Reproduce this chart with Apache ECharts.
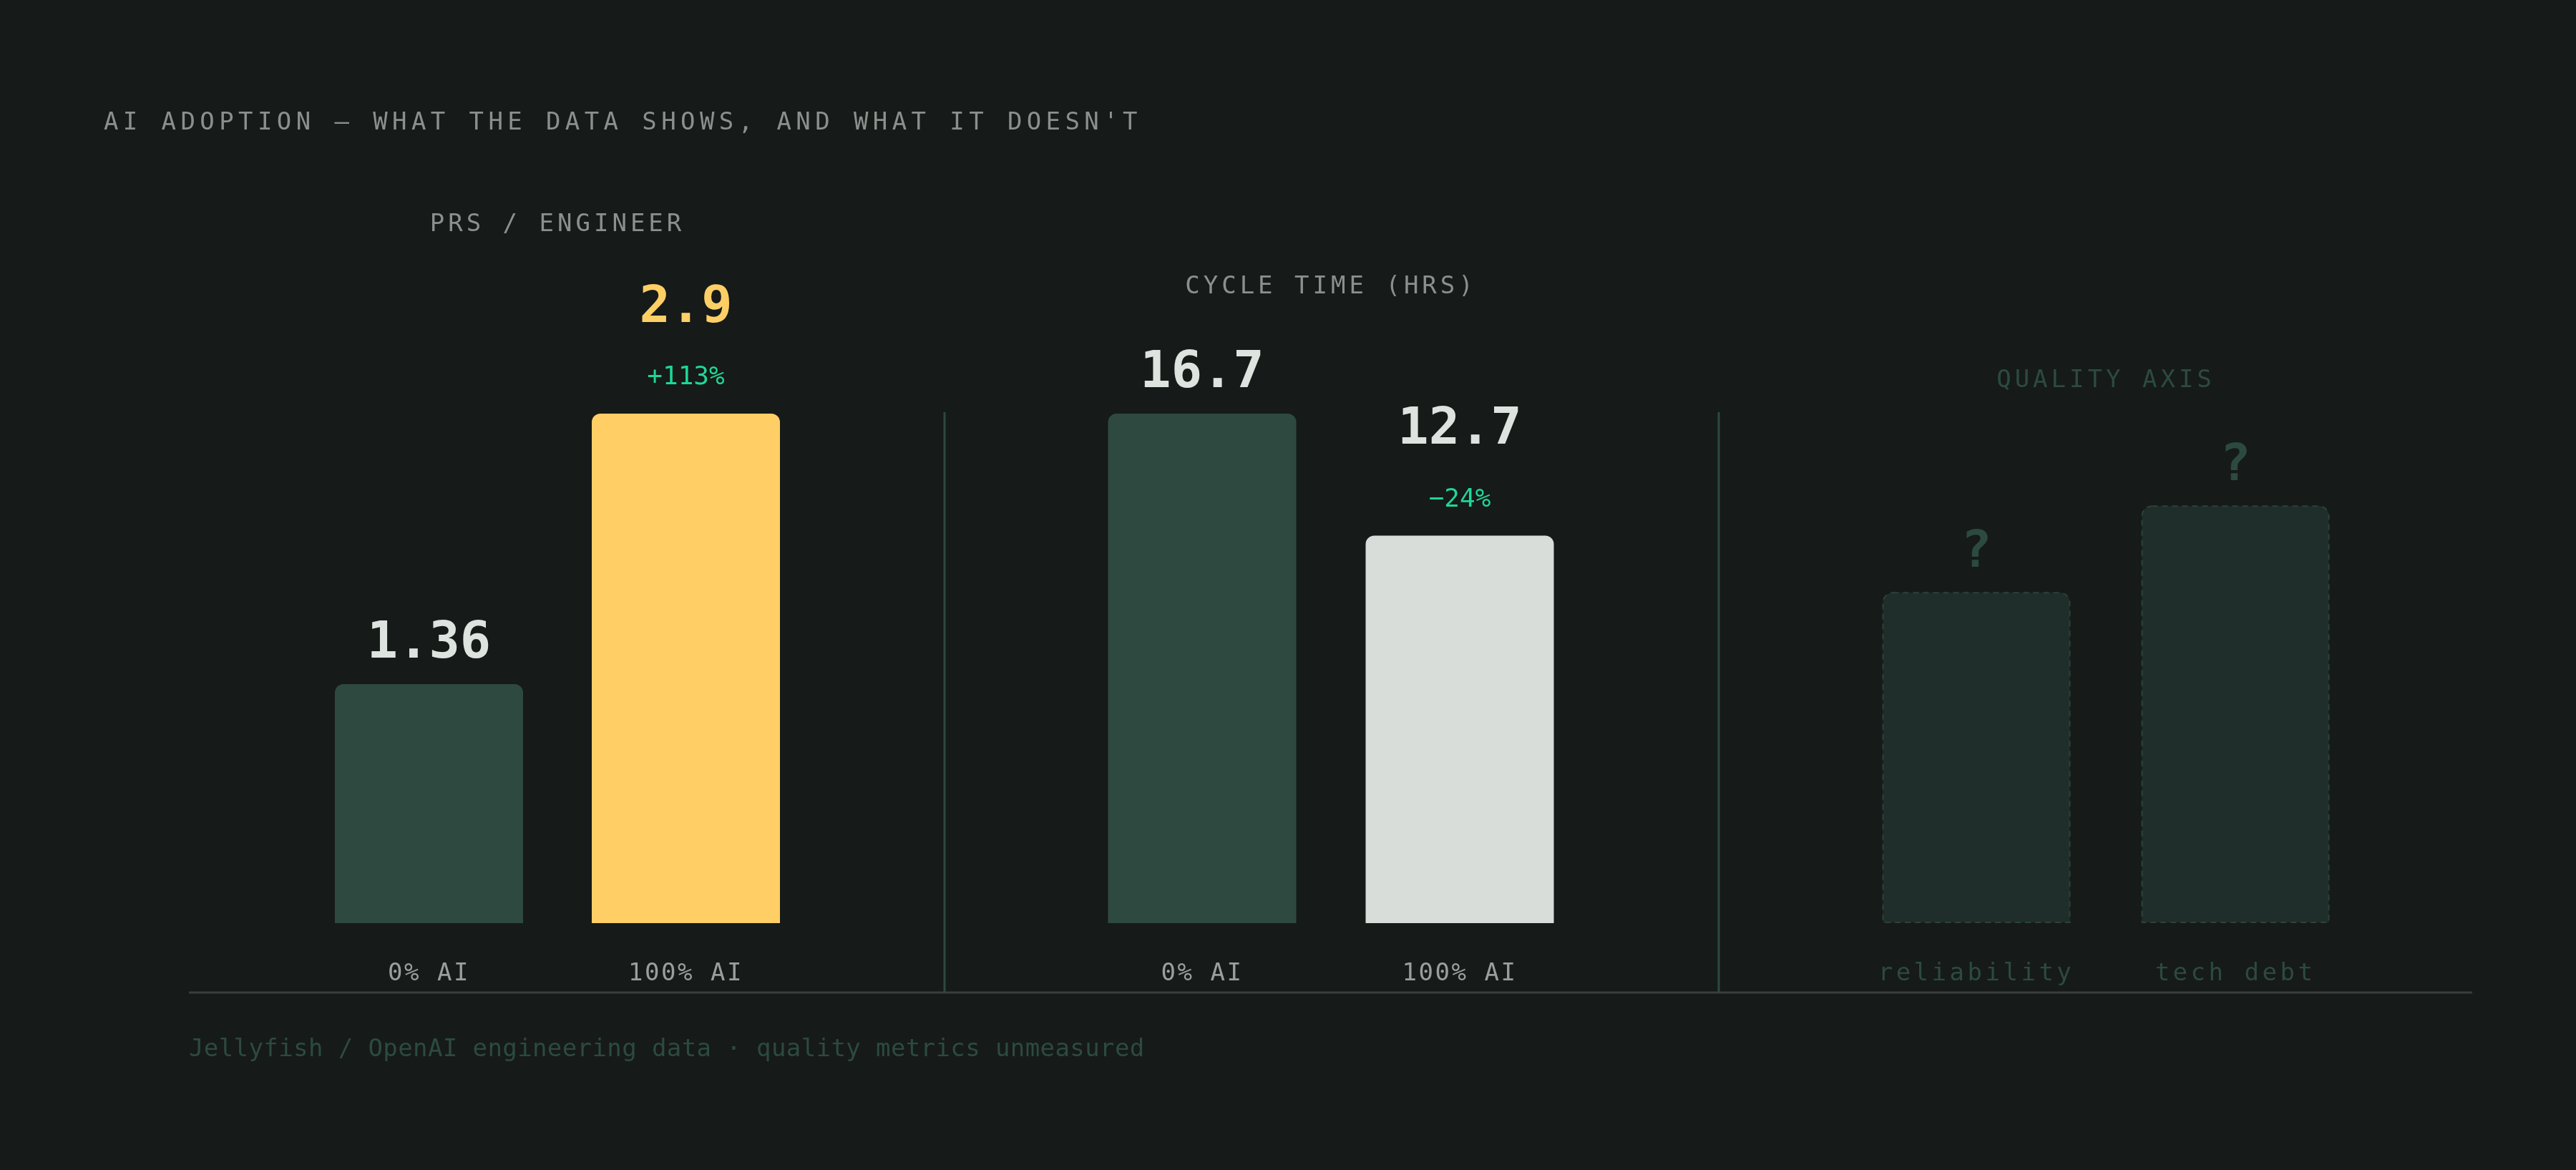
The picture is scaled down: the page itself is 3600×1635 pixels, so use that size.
<!DOCTYPE html>
<html>
<head>
<meta charset="utf-8">
<title>AI adoption</title>
<script src="https://cdn.jsdelivr.net/npm/echarts@6/dist/echarts.min.js"></script>
<style>
    html, body { margin: 0; padding: 0; background: #161a19; }
    #chart { width: 3600px; height: 1635px; }
</style>
</head>
<body>
<div id="chart"></div>
<script>
// data
const prsCats = ["0% AI", "100% AI"];
const prsVals = [1.36, 2.9];
const prsChange = [null, "+113%"];

const cycleCats = ["0% AI", "100% AI"];
const cycleVals = [16.7, 12.7];
const cycleChange = [null, "\u221224%"];

// quality is not measured, bars are only placeholders (out of 100)
const qualityCats = ["reliability", "tech debt"];
const qualityVals = [65, 82];

const titleText = "AI ADOPTION \u2014 WHAT THE DATA SHOWS, AND WHAT IT DOESN'T";
const panelTitles = ["PRS / ENGINEER", "CYCLE TIME (HRS)", "QUALITY AXIS"];
const footText = "Jellyfish / OpenAI engineering data \u00b7 quality metrics unmeasured";

const mono = "'DejaVu Sans Mono', 'Liberation Mono', monospace";
const bg = "#161a19";
const dim = "#2c4a40";
const grey = "#8b908d";
const green = "#1fd796";

// zrender has no letter-spacing, so put it on the canvas for these captions
let tracking = {};
tracking[titleText] = 6.4;
tracking[panelTitles[0]] = 5;
tracking[panelTitles[1]] = 5;
tracking[panelTitles[2]] = 5;
tracking["0% AI"] = 2.5;
tracking["100% AI"] = 2.5;
tracking["reliability"] = 4.5;
tracking["tech debt"] = 4.5;
tracking[footText] = 0.4;

const rawFill = CanvasRenderingContext2D.prototype.fillText;
CanvasRenderingContext2D.prototype.fillText = function (txt) {
    let s = tracking[txt];
    if (s && "letterSpacing" in this) {
        this.letterSpacing = s + "px";
        rawFill.apply(this, arguments);
        this.letterSpacing = "0px";
    } else {
        rawFill.apply(this, arguments);
    }
};

function barItems(vals, colors, labelColors, changes) {
    return vals.map(function (v, i) {
        let txt = changes[i] ? "{vc|" + v + "}\n{p|" + changes[i] + "}" : "{v|" + v + "}";
        return {
            value: v,
            itemStyle: { color: colors[i], borderRadius: [12, 12, 0, 0] },
            label: {
                show: true,
                position: "top",
                distance: changes[i] ? 24 : 20,
                formatter: txt,
                rich: {
                    v: { fontFamily: mono, fontSize: 72, fontWeight: "bold", color: labelColors[i], lineHeight: 72 },
                    vc: { fontFamily: mono, fontSize: 72, fontWeight: "bold", color: labelColors[i], lineHeight: 142 },
                    p: { fontFamily: mono, fontSize: 36, color: green, lineHeight: 52 }
                }
            }
        };
    });
}

function xAx(idx, cats, color) {
    return {
        type: "category",
        gridIndex: idx,
        data: cats,
        axisLine: { show: false },
        axisTick: { show: false },
        axisLabel: { margin: 54, fontFamily: mono, fontSize: 34, color: color }
    };
}

let myChart = echarts.init(document.getElementById("chart"), null, { renderer: "canvas" });

let option = {
    backgroundColor: bg,
    animation: false,
    grid: [
        { left: 420, top: 578, width: 718, height: 712 },
        { left: 1500, top: 578, width: 720, height: 712 },
        { left: 2581, top: 578, width: 724, height: 712 }
    ],
    xAxis: [
        xAx(0, prsCats, "#9a9f9c"),
        xAx(1, cycleCats, "#9a9f9c"),
        xAx(2, qualityCats, dim)
    ],
    yAxis: [
        { type: "value", gridIndex: 0, min: 0, max: "dataMax", show: false },
        { type: "value", gridIndex: 1, min: 0, max: "dataMax", show: false },
        { type: "value", gridIndex: 2, min: 0, max: 100, show: false }
    ],
    series: [
        {
            name: "PRs / engineer",
            type: "bar",
            xAxisIndex: 0, yAxisIndex: 0,
            barWidth: 263,
            data: barItems(prsVals, ["#2e4a40", "#ffcf66"], ["#dde3df", "#ffcf66"], prsChange)
        },
        {
            name: "Cycle time",
            type: "bar",
            xAxisIndex: 1, yAxisIndex: 1,
            barWidth: 263,
            data: barItems(cycleVals, ["#2e4a40", "#d8ddd9"], ["#dde3df", "#dde3df"], cycleChange)
        },
        {
            name: "Quality",
            type: "bar",
            xAxisIndex: 2, yAxisIndex: 2,
            barWidth: 263,
            data: qualityVals,
            itemStyle: {
                color: "#1f2e2a",
                borderColor: "#2a4239",
                borderWidth: 2,
                borderType: [8, 6],
                borderRadius: [14, 14, 0, 0]
            },
            label: {
                show: true,
                position: "top",
                distance: 18,
                formatter: "{q|?}",
                rich: { q: { fontFamily: mono, fontSize: 72, fontWeight: "bold", color: dim, lineHeight: 72 } }
            }
        }
    ],
    graphic: [
        { type: "text", left: 145, top: 155, style: { text: titleText, font: "34px " + mono, fill: grey } },
        { type: "text", x: 779, y: 314, style: { text: panelTitles[0], font: "34px " + mono, fill: grey, align: "center", verticalAlign: "middle" } },
        { type: "text", x: 1860, y: 401, style: { text: panelTitles[1], font: "34px " + mono, fill: grey, align: "center", verticalAlign: "middle" } },
        { type: "text", x: 2943, y: 532, style: { text: panelTitles[2], font: "34px " + mono, fill: dim, align: "center", verticalAlign: "middle" } },
        // dividers + base rule
        { type: "line", shape: { x1: 1320, y1: 576, x2: 1320, y2: 1386 }, style: { stroke: "#2e4a40", lineWidth: 3 } },
        { type: "line", shape: { x1: 2402, y1: 576, x2: 2402, y2: 1386 }, style: { stroke: "#2e4a40", lineWidth: 3 } },
        { type: "line", shape: { x1: 264, y1: 1387, x2: 3455, y2: 1387 }, style: { stroke: "#3a3e3d", lineWidth: 3 } },
        { type: "text", x: 264, y: 1467, style: { text: footText, font: "34px " + mono, fill: dim, verticalAlign: "middle" } }
    ]
};

myChart.setOption(option);
</script>
</body>
</html>
